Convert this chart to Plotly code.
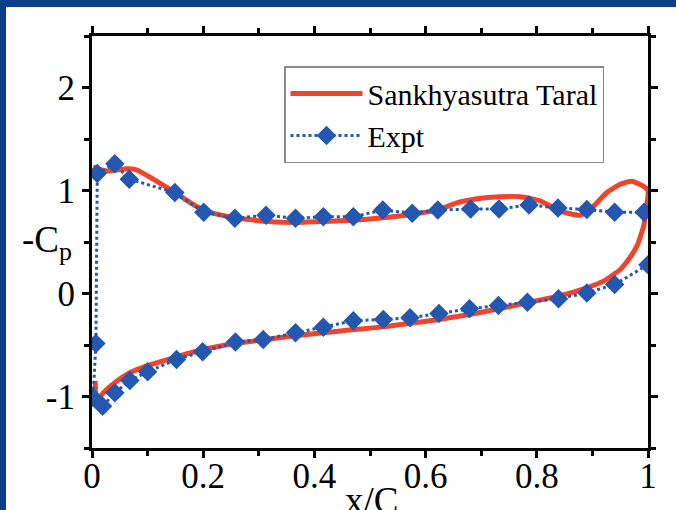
import plotly.graph_objects as go

# ---- Data ----
sim_x = [0.002, 0.026, 0.062, 0.08, 0.11, 0.149, 0.182, 0.206, 0.242, 0.278, 0.314, 0.366,
         0.42, 0.47, 0.524, 0.576, 0.622, 0.656, 0.692, 0.734, 0.77, 0.806, 0.842, 0.878,
         0.896, 0.926, 0.95, 0.971, 0.992, 1.0,
         0.997, 0.992, 0.98, 0.965, 0.95, 0.92, 0.89, 0.839, 0.783, 0.731, 0.679, 0.624,
         0.572, 0.524, 0.47, 0.416, 0.366, 0.308, 0.258, 0.199, 0.152, 0.1, 0.068, 0.041,
         0.02, 0.012, 0.007, 0.006]
sim_y = [1.23, 1.19, 1.21, 1.20, 1.11, 0.98, 0.864, 0.80, 0.75, 0.72, 0.70, 0.69,
         0.70, 0.71, 0.735, 0.77, 0.81, 0.88, 0.92, 0.94, 0.94, 0.90, 0.80, 0.76,
         0.815, 0.98, 1.06, 1.09, 1.04, 1.0,
         0.82, 0.65, 0.46, 0.33, 0.233, 0.12, 0.055, -0.026, -0.09, -0.149, -0.204, -0.252,
         -0.29, -0.324, -0.35, -0.382, -0.41, -0.45, -0.485, -0.544, -0.615, -0.70, -0.77, -0.867,
         -0.965, -1.02, -0.99, -0.85]

exp_x = [0.993, 0.94, 0.89, 0.838, 0.786, 0.732, 0.681, 0.622, 0.576, 0.523, 0.47, 0.416,
         0.366, 0.313, 0.257, 0.201, 0.149, 0.067, 0.041, 0.0095,
         0.007, 0.002,
         0.019, 0.041, 0.068, 0.1, 0.152, 0.199, 0.258, 0.308, 0.366, 0.416, 0.47, 0.524,
         0.572, 0.624, 0.679, 0.731, 0.783, 0.839, 0.89, 0.94, 1.0]
exp_y = [0.79, 0.79, 0.815, 0.83, 0.86, 0.82, 0.82, 0.81, 0.78, 0.81, 0.745, 0.745,
         0.73, 0.76, 0.73, 0.79, 0.98, 1.11, 1.26, 1.165,
         -0.485, -1.01,
         -1.094, -0.964, -0.845, -0.76, -0.64, -0.566, -0.472, -0.447, -0.382, -0.327, -0.265, -0.252,
         -0.236, -0.194, -0.149, -0.117, -0.084, -0.05, 0.006, 0.087, 0.28]

x_tickvals = [0, 0.2, 0.4, 0.6, 0.8, 1.0]
x_ticktext = ["0", "0.2", "0.4", "0.6", "0.8", "1"]
y_tickvals = [-1, 0, 1, 2]
y_ticktext = ["-1", "0", "1", "2"]

RED = "#f0442c"
BLUE = "#2457b0"
FRAME = "#0b3f8a"
FONT = "Liberation Serif"

fig = go.Figure()
fig.add_trace(go.Scatter(x=sim_x, y=sim_y, mode="lines", name="Sankhyasutra Taral",
                         line=dict(color=RED, width=5, shape="spline", smoothing=0.5)))
fig.add_trace(go.Scatter(x=exp_x, y=exp_y, mode="lines+markers", name="Expt",
                         line=dict(color=BLUE, width=3, dash="dot"),
                         marker=dict(symbol="diamond", size=15, color=BLUE)))

L, R, T, B = 92, 28, 36, 62
W, H = 676, 510
pw, ph = W - L - R, H - T - B

def px(xp):
    return (xp - L) / pw

def py(yp):
    return (H - B - yp) / ph

axis_common = dict(showgrid=False, zeroline=False, showline=True, linecolor="black",
                   linewidth=3, mirror="ticks", ticks="outside", ticklen=7, tickwidth=3,
                   tickcolor="black", automargin=False,
                   tickfont=dict(family=FONT, size=35, color="black"))

fig.update_xaxes(range=[0, 1], tickvals=x_tickvals, ticktext=x_ticktext,
                 ticklabelstandoff=-12,
                 minor=dict(dtick=0.1, ticks="outside", ticklen=5, tickwidth=3, tickcolor="black"),
                 **axis_common)
fig.update_yaxes(range=[-1.5, 2.5], tickvals=y_tickvals, ticktext=y_ticktext,
                 minor=dict(dtick=0.5, ticks="outside", ticklen=5, tickwidth=3, tickcolor="black"),
                 **axis_common)

fig.update_layout(
    width=W, height=H,
    margin=dict(l=L, r=R, t=T, b=B, autoexpand=False),
    paper_bgcolor="white", plot_bgcolor="white",
    font=dict(family=FONT, color="black"),
    showlegend=True,
    legend=dict(x=px(284), y=py(66), xanchor="left", yanchor="top",
                bgcolor="white", bordercolor="#8a8a8a", borderwidth=1.5,
                font=dict(family=FONT, size=30, color="black"),
                itemwidth=72, tracegroupgap=0),
    shapes=[
        dict(type="rect", xref="paper", yref="paper", x0=px(0), x1=px(6),
             y0=py(H), y1=py(0), fillcolor=FRAME, line=dict(width=0), layer="above"),
        dict(type="rect", xref="paper", yref="paper", x0=px(0), x1=px(W),
             y0=py(7), y1=py(0), fillcolor=FRAME, line=dict(width=0), layer="above"),
    ],
    annotations=[
        dict(text="-C<sub>p</sub>", xref="paper", yref="paper", x=px(20), y=py(242),
             xanchor="left", yanchor="middle", showarrow=False,
             font=dict(family=FONT, size=37, color="black")),
        dict(text="x/C", xref="paper", yref="paper", x=px(371), y=py(478),
             xanchor="center", yanchor="top", showarrow=False,
             font=dict(family=FONT, size=37, color="black")),
    ],
)

fig.write_html("out.html", config={"displayModeBar": False},
               post_script="document.body.style.margin='0';document.body.style.overflow='hidden';")
